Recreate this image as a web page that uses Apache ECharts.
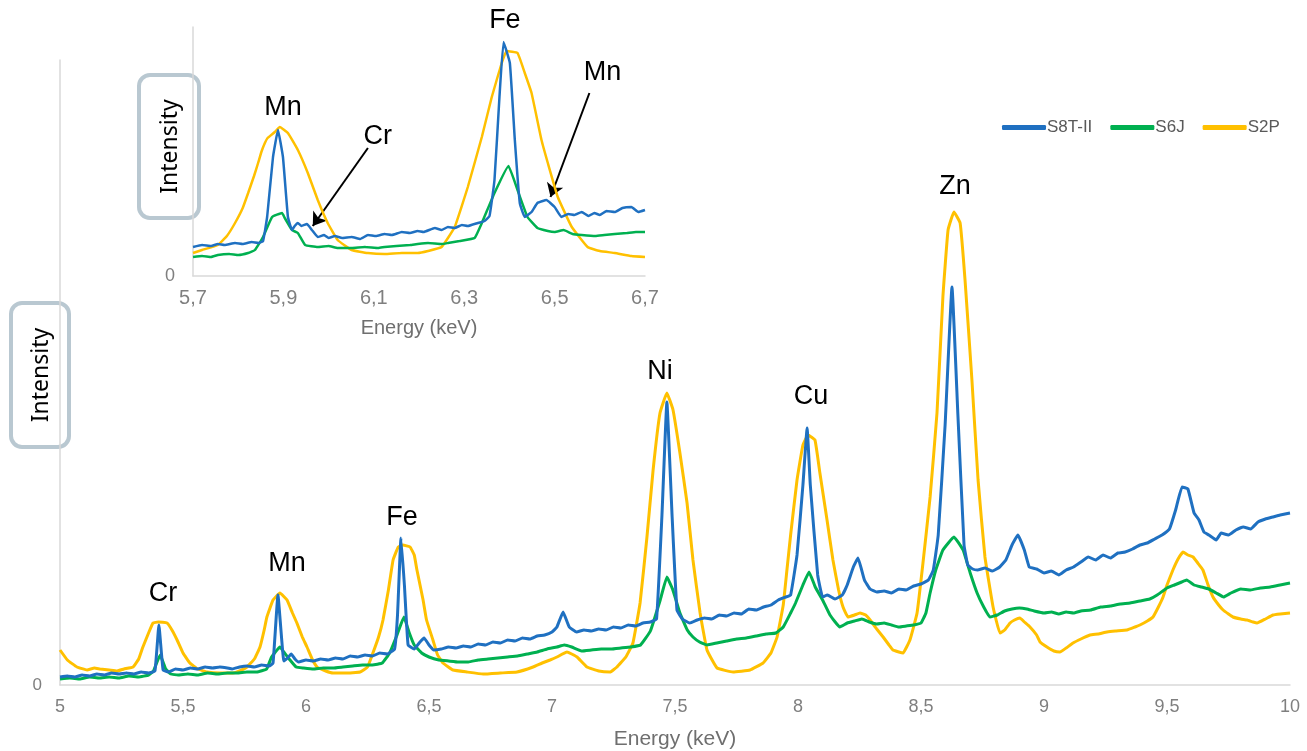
<!DOCTYPE html>
<html>
<head>
<meta charset="utf-8">
<script src="https://cdn.jsdelivr.net/npm/echarts@6/dist/echarts.min.js"></script>
<style>
html,body{margin:0;padding:0;background:#fff;}
#chart{width:1307px;height:751px;}
</style>
</head>
<body>
<div id="chart"></div>
<script>
// ---------- DATA ----------
const seriesNames = ['S8T-II', 'S6J', 'S2P'];
const mainTicks = [5, 5.5, 6, 6.5, 7, 7.5, 8, 8.5, 9, 9.5, 10];
const insetTicks = [5.7, 5.9, 6.1, 6.3, 6.5, 6.7];

// Main spectrum, [energy keV, intensity a.u.]
const blueMain = [[5.000,8],[5.03,9],[5.06,8],[5.09,10],[5.12,9],[5.15,11],[5.18,10],[5.21,12],[5.24,11],[5.27,12],[5.30,11],[5.33,13],[5.36,12],[5.386,14],[5.402,60],[5.419,15],[5.44,13],[5.47,16],[5.50,15],[5.53,17],[5.56,16],[5.59,18],[5.62,17],[5.65,18],[5.68,17],[5.70,16],[5.73,18],[5.76,19],[5.79,18],[5.82,20],[5.85,19],[5.866,22],[5.886,90],[5.91,24],[5.925,27],[5.94,31],[5.955,26],[5.97,23],[6.00,25],[6.03,24],[6.06,26],[6.09,25],[6.12,27],[6.15,26],[6.18,29],[6.21,28],[6.24,30],[6.27,29],[6.30,32],[6.33,31],[6.36,36],[6.372,70],[6.386,147],[6.40,100],[6.415,40],[6.44,36],[6.46,42],[6.48,47],[6.50,40],[6.52,35],[6.55,36],[6.58,38],[6.61,37],[6.64,39],[6.67,38],[6.70,41],[6.73,40],[6.76,43],[6.79,42],[6.82,45],[6.85,44],[6.88,47],[6.91,46],[6.94,49],[6.97,50],[7.00,53],[7.02,58],[7.045,73],[7.07,58],[7.10,53],[7.13,55],[7.16,54],[7.19,56],[7.22,55],[7.25,58],[7.28,57],[7.31,60],[7.34,59],[7.37,62],[7.40,63],[7.425,66],[7.447,170],[7.467,283],[7.488,170],[7.508,75],[7.53,66],[7.56,62],[7.59,65],[7.62,67],[7.65,66],[7.68,70],[7.71,69],[7.74,72],[7.77,71],[7.80,76],[7.83,75],[7.86,78],[7.89,80],[7.92,85],[7.95,88],[7.97,90],[7.996,130],[8.02,200],[8.037,257],[8.05,200],[8.08,110],[8.10,88],[8.12,90],[8.15,86],[8.18,90],[8.20,100],[8.225,118],[8.244,127],[8.27,105],[8.293,96],[8.32,93],[8.35,94],[8.38,92],[8.41,96],[8.44,95],[8.47,99],[8.50,101],[8.53,105],[8.55,115],[8.57,150],[8.598,260],[8.626,398],[8.65,270],[8.675,140],[8.69,120],[8.71,116],[8.73,115],[8.76,117],[8.79,114],[8.82,118],[8.845,125],[8.87,140],[8.894,150],[8.92,135],[8.94,118],[8.97,116],[9.00,112],[9.03,114],[9.06,110],[9.09,115],[9.12,118],[9.15,123],[9.18,128],[9.21,125],[9.24,130],[9.27,127],[9.30,132],[9.33,133],[9.36,136],[9.39,140],[9.42,142],[9.45,146],[9.48,150],[9.51,156],[9.535,175],[9.561,198],[9.585,196],[9.61,172],[9.63,165],[9.65,153],[9.67,150],[9.70,145],[9.72,152],[9.75,150],[9.78,155],[9.81,158],[9.84,156],[9.87,163],[9.90,166],[9.93,168],[9.96,170],[10.0,172]];

const greenMain = [[5.000,6],[5.04,7],[5.08,6],[5.12,8],[5.16,7],[5.20,8],[5.24,7],[5.28,9],[5.32,8],[5.36,10],[5.38,14],[5.407,30],[5.43,16],[5.45,11],[5.48,10],[5.52,11],[5.56,10],[5.60,12],[5.64,11],[5.68,12],[5.72,12],[5.76,13],[5.80,13],[5.84,16],[5.86,28],[5.894,38],[5.91,33],[5.935,25],[5.96,18],[5.99,17],[6.03,16],[6.07,17],[6.11,17],[6.15,18],[6.19,19],[6.23,20],[6.27,20],[6.31,22],[6.34,32],[6.37,50],[6.398,68],[6.42,52],[6.44,40],[6.47,32],[6.50,28],[6.54,25],[6.58,24],[6.62,23],[6.66,23],[6.70,25],[6.74,26],[6.78,27],[6.82,28],[6.86,29],[6.90,31],[6.94,33],[6.98,36],[7.02,38],[7.05,40],[7.08,38],[7.12,34],[7.16,35],[7.20,36],[7.24,36],[7.28,37],[7.32,38],[7.36,40],[7.40,54],[7.44,85],[7.467,108],[7.49,96],[7.52,72],[7.55,55],[7.573,48],[7.60,43],[7.63,40],[7.67,42],[7.71,44],[7.75,46],[7.79,47],[7.83,49],[7.87,51],[7.91,52],[7.94,58],[7.97,72],[7.99,82],[8.02,100],[8.045,113],[8.07,98],[8.10,85],[8.13,70],[8.17,58],[8.20,62],[8.23,64],[8.26,66],[8.29,63],[8.32,61],[8.35,62],[8.38,60],[8.41,58],[8.44,59],[8.47,60],[8.50,62],[8.52,72],[8.537,92],[8.56,115],[8.589,135],[8.634,148],[8.671,135],[8.70,112],[8.728,92],[8.755,78],[8.78,68],[8.81,70],[8.84,74],[8.87,76],[8.90,77],[8.93,76],[8.96,74],[9.00,72],[9.03,73],[9.06,71],[9.09,73],[9.12,72],[9.15,74],[9.19,75],[9.23,78],[9.27,79],[9.31,81],[9.35,82],[9.39,84],[9.43,86],[9.46,90],[9.50,97],[9.53,100],[9.56,103],[9.58,105],[9.61,100],[9.64,98],[9.67,96],[9.70,92],[9.73,88],[9.76,92],[9.80,96],[9.84,95],[9.88,97],[9.92,98],[9.96,100],[10.0,102]];

const yellowMain = [[5.000,35],[5.03,25],[5.069,18],[5.11,15],[5.14,17],[5.163,16],[5.20,15],[5.232,14],[5.26,16],[5.297,18],[5.32,26],[5.337,38],[5.36,52],[5.378,62],[5.40,63],[5.435,62],[5.455,55],[5.476,45],[5.50,32],[5.528,22],[5.56,16],[5.598,13],[5.65,12],[5.703,12],[5.73,14],[5.76,18],[5.79,26],[5.813,38],[5.83,55],[5.841,68],[5.866,85],[5.894,92],[5.923,85],[5.945,72],[5.963,62],[5.985,48],[6.004,38],[6.025,26],[6.045,18],[6.08,14],[6.11,12],[6.16,12],[6.22,13],[6.25,18],[6.272,32],[6.295,48],[6.313,65],[6.335,95],[6.354,125],[6.375,138],[6.394,140],[6.423,138],[6.44,130],[6.451,115],[6.476,85],[6.49,65],[6.516,45],[6.535,30],[6.557,22],[6.598,15],[6.654,13],[6.72,11],[6.79,12],[6.858,13],[6.923,18],[6.96,22],[6.992,25],[7.02,28],[7.061,33],[7.08,31],[7.102,28],[7.142,18],[7.19,14],[7.236,13],[7.264,18],[7.30,28],[7.329,42],[7.358,82],[7.386,148],[7.411,215],[7.439,272],[7.467,292],[7.492,275],[7.52,232],[7.549,182],[7.573,125],[7.602,72],[7.630,35],[7.671,17],[7.736,13],[7.805,15],[7.858,22],[7.89,32],[7.915,48],[7.94,80],[7.955,115],[7.97,150],[7.996,205],[8.02,240],[8.041,250],[8.069,245],[8.089,212],[8.118,165],[8.142,125],[8.165,95],[8.183,78],[8.203,68],[8.23,70],[8.252,72],[8.275,70],[8.293,65],[8.32,56],[8.346,48],[8.37,40],[8.386,35],[8.41,33],[8.427,32],[8.455,45],[8.484,72],[8.508,122],[8.537,188],[8.565,272],[8.589,388],[8.61,455],[8.634,473],[8.659,462],[8.679,405],[8.707,305],[8.732,205],[8.76,128],[8.793,78],[8.821,52],[8.84,55],[8.862,62],[8.88,65],[8.902,67],[8.92,63],[8.943,58],[8.97,50],[8.984,43],[9.012,38],[9.04,34],[9.065,33],[9.09,37],[9.118,42],[9.15,46],[9.187,50],[9.22,51],[9.256,53],[9.29,54],[9.337,55],[9.37,58],[9.39,60],[9.42,64],[9.443,68],[9.465,78],[9.484,88],[9.50,100],[9.524,115],[9.545,126],[9.565,133],[9.585,130],[9.606,128],[9.625,122],[9.646,115],[9.667,100],[9.687,88],[9.71,80],[9.728,75],[9.75,71],[9.768,68],[9.80,66],[9.825,65],[9.85,63],[9.866,62],[9.90,66],[9.931,70],[9.96,71],[10.0,72]];

// Inset (5.7 - 6.7 keV), [energy keV, intensity a.u.]
const blueInset = [[5.70,29],[5.72,31],[5.74,30],[5.755,32],[5.77,31],[5.793,33],[5.81,32],[5.83,34],[5.845,33],[5.855,35],[5.864,59],[5.877,119],[5.888,146],[5.899,119],[5.910,59],[5.919,46],[5.925,50],[5.932,53],[5.94,50],[5.952,52],[5.963,46],[5.976,39],[5.99,41],[6.00,38],[6.014,40],[6.03,38],[6.051,39],[6.07,37],[6.087,41],[6.105,40],[6.124,42],[6.14,41],[6.162,44],[6.18,43],[6.197,45],[6.21,44],[6.235,48],[6.25,46],[6.264,49],[6.279,48],[6.295,51],[6.308,50],[6.33,53],[6.345,55],[6.356,60],[6.367,96],[6.378,179],[6.387,234],[6.401,213],[6.412,136],[6.423,73],[6.434,59],[6.449,64],[6.462,73],[6.482,76],[6.50,69],[6.515,59],[6.53,62],[6.544,61],[6.56,64],[6.575,60],[6.588,63],[6.60,61],[6.615,65],[6.633,64],[6.65,68],[6.67,69],[6.685,64],[6.70,66]];

const greenInset = [[5.70,19],[5.72,20],[5.74,19],[5.755,21],[5.78,22],[5.80,21],[5.822,23],[5.837,26],[5.855,39],[5.875,59],[5.897,63],[5.903,58],[5.919,46],[5.932,43],[5.948,31],[5.976,29],[6.00,30],[6.02,28],[6.051,28],[6.08,29],[6.11,28],[6.124,29],[6.15,30],[6.18,31],[6.197,32],[6.22,33],[6.25,32],[6.264,33],[6.29,35],[6.323,38],[6.339,53],[6.367,83],[6.398,110],[6.418,86],[6.440,59],[6.462,48],[6.485,45],[6.50,44],[6.52,46],[6.54,42],[6.56,41],[6.59,40],[6.61,41],[6.633,42],[6.66,43],[6.68,44],[6.70,44]];

const yellowInset = [[5.70,23],[5.72,26],[5.755,31],[5.775,40],[5.793,53],[5.81,68],[5.822,83],[5.835,100],[5.844,113],[5.852,125],[5.859,133],[5.865,138],[5.881,144],[5.892,149],[5.910,143],[5.932,126],[5.954,103],[5.976,76],[5.998,53],[6.02,36],[6.051,26],[6.087,23],[6.124,22],[6.162,23],[6.197,23],[6.22,25],[6.25,29],[6.279,49],[6.308,89],[6.339,139],[6.361,179],[6.383,213],[6.394,225],[6.418,223],[6.434,203],[6.449,183],[6.471,136],[6.485,113],[6.507,79],[6.538,49],[6.573,29],[6.60,25],[6.633,23],[6.67,20],[6.70,19]];

// Peak annotations [energy, intensity, label]
const mainLabels = [[5.419,91,'Cr'],[5.923,121,'Mn'],[6.39,167,'Fe'],[7.439,313,'Ni'],[8.053,288,'Cu'],[8.638,498,'Zn']];
const insetLabels = [[5.899,168,'Mn'],[6.109,139,'Cr'],[6.390,255,'Fe'],[6.606,203,'Mn']];
const insetArrows = [[[6.087,128],[5.965,50]],[[6.577,183],[6.491,79]]];

// ---------- CHART ----------
const colors = ['#1f70c1', '#00b050', '#ffc000'];
const FONT = 'Liberation Sans, Arial, sans-serif';
const labelColor = '#7f7f7f';
const axisLineColor = '#d9d9d9';
const fmt = v => String(+v.toFixed(2)).replace('.', ',');

const chart = echarts.init(document.getElementById('chart'), null, {renderer: 'canvas'});

function xAxisCfg(gridIndex, min, max, interval, nameGap, fs, nfs, margin) {
  return {
    type: 'value', gridIndex, min, max, interval,
    name: 'Energy (keV)', nameLocation: 'middle', nameGap,
    nameTextStyle: {color: '#6f6f6f', fontSize: nfs, fontFamily: FONT},
    axisLine: {show: true, lineStyle: {color: axisLineColor, width: 1.5}},
    axisTick: {show: false},
    splitLine: {show: false},
    axisLabel: {color: labelColor, fontSize: fs, fontFamily: FONT, margin, formatter: fmt}
  };
}
function yAxisCfg(gridIndex, max, fs) {
  return {
    type: 'value', gridIndex, min: 0, max, interval: max,
    axisLine: {show: true, lineStyle: {color: axisLineColor, width: 1.5}},
    axisTick: {show: false},
    splitLine: {show: false},
    axisLabel: {color: labelColor, fontSize: fs, fontFamily: FONT, margin: 18,
      formatter: v => (v === 0 ? '0' : '')}
  };
}
function lineSeries(name, data, idx, gridIdx, width) {
  return {
    name, type: 'line', data, xAxisIndex: gridIdx, yAxisIndex: gridIdx,
    showSymbol: false, symbol: 'none', smooth: 0.1, clip: false,
    lineStyle: {color: colors[idx], width},
    itemStyle: {color: colors[idx]},
    z: 3 - idx + (gridIdx ? 10 : 0),
    silent: true
  };
}

const insetBlue = lineSeries(seriesNames[0], blueInset, 0, 1, 2.5);
insetBlue.markLine = {
  silent: true,
  symbol: ['none', 'arrow'], symbolSize: 13,
  label: {show: false},
  emphasis: {disabled: true},
  lineStyle: {color: '#000', width: 2, type: 'solid'},
  data: insetArrows.map(a => [{coord: a[0]}, {coord: a[1]}])
};

const option = {
  animation: false,
  backgroundColor: '#fff',
  grid: [
    {left: 60, right: 17, top: 60, bottom: 66, containLabel: false, outerBoundsMode: 'none'},
    {left: 193, right: 662, top: 27, bottom: 475, containLabel: false, outerBoundsMode: 'none'}
  ],
  legend: {
    data: seriesNames,
    left: 997, top: 114,
    itemWidth: 44, itemHeight: 5, itemGap: 18,
    icon: 'roundRect',
    textStyle: {color: '#595959', fontSize: 17, fontFamily: FONT, padding: [0, 0, 0, -4]}
  },
  xAxis: [
    xAxisCfg(0, 5, 10, 0.5, 44, 18, 21, 13),
    xAxisCfg(1, 5.7, 6.7, 0.2, 42, 20, 20, 12)
  ],
  yAxis: [
    yAxisCfg(0, 625, 17),
    yAxisCfg(1, 249, 18)
  ],
  series: [
    lineSeries(seriesNames[0], blueMain, 0, 0, 3),
    lineSeries(seriesNames[1], greenMain, 1, 0, 3),
    lineSeries(seriesNames[2], yellowMain, 2, 0, 3),
    insetBlue,
    lineSeries(seriesNames[1], greenInset, 1, 1, 2.5),
    lineSeries(seriesNames[2], yellowInset, 2, 1, 2.5)
  ]
};
chart.setOption(option);

// Text annotations placed through the axes' scales
function peakText(gridIndex, item) {
  const p = chart.convertToPixel({gridIndex}, [item[0], item[1]]);
  return {
    type: 'text', x: p[0], y: p[1], z: 50, silent: true,
    style: {text: item[2], fill: '#000', font: '27px ' + FONT, textAlign: 'center', textVerticalAlign: 'middle'}
  };
}
function intensityBox(x, y, w, h) {
  return {
    type: 'group', z: 40, silent: true,
    children: [
      {type: 'rect', shape: {x, y, width: w, height: h, r: 11},
        style: {fill: 'rgba(255,255,255,0)', stroke: '#b9c8d1', lineWidth: 4}},
      {type: 'text', x: x + w / 2 + 1, y: y + h / 2, rotation: Math.PI / 2,
        style: {text: 'Intensity', fill: '#000', font: '23px Noto Sans, ' + FONT, textAlign: 'center', textVerticalAlign: 'middle'}}
    ]
  };
}
const graphics = [];
mainLabels.forEach(l => graphics.push(peakText(0, l)));
insetLabels.forEach(l => graphics.push(peakText(1, l)));
graphics.push(intensityBox(11, 303, 58, 144));
graphics.push(intensityBox(139, 75, 60, 143));
chart.setOption({graphic: graphics});
</script>
</body>
</html>
